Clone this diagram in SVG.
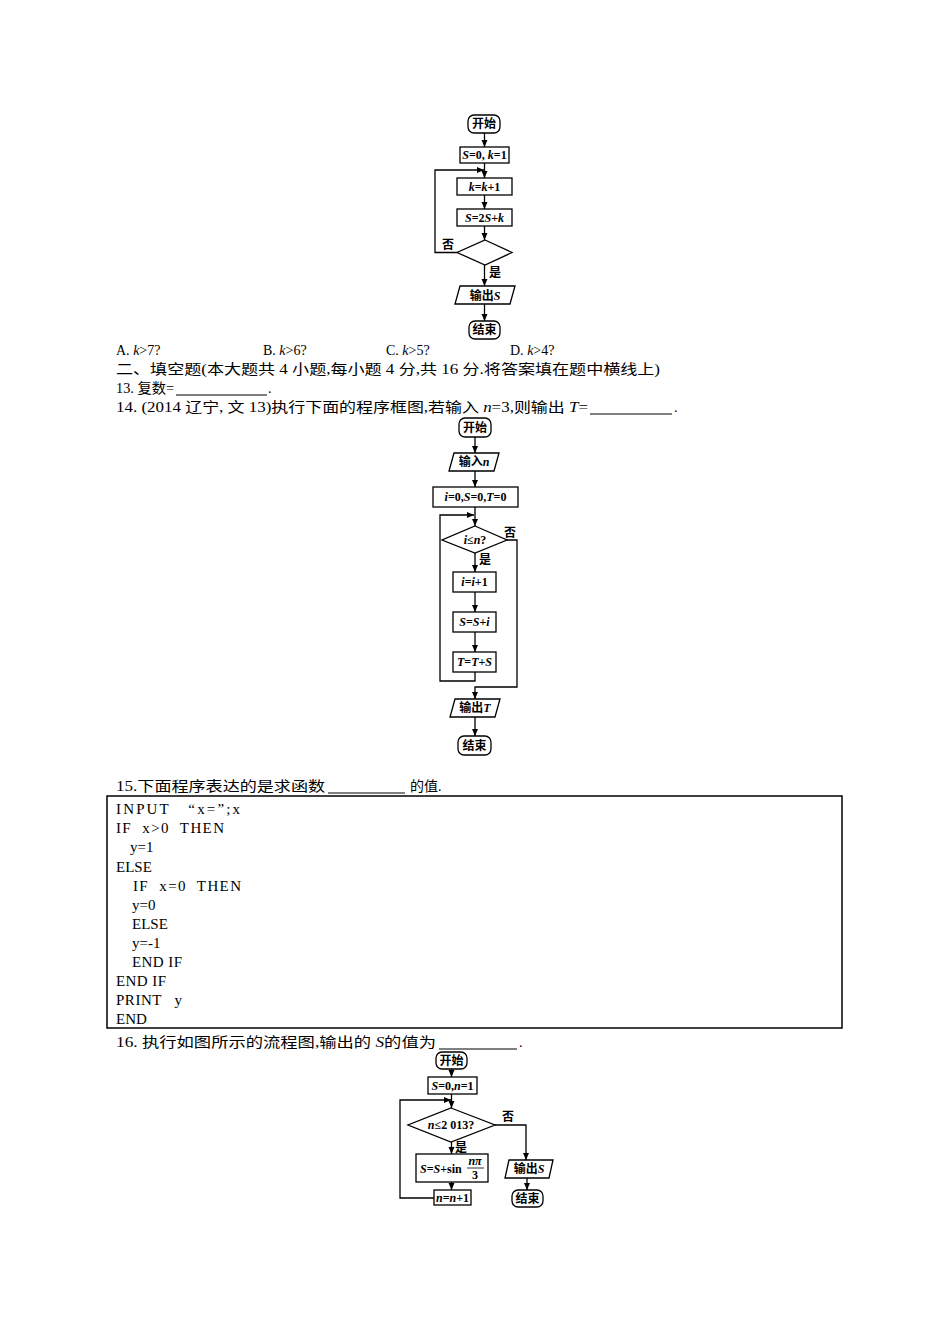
<svg xmlns="http://www.w3.org/2000/svg" width="950" height="1344" viewBox="0 0 950 1344">
<style>
text{font-family:"Liberation Serif","Noto Sans CJK SC",serif;fill:#000}
.t{font-size:14px}
.n{font-size:12px;font-weight:bold}
.c{font-size:15px}
.b{fill:#fff;stroke:#000;stroke-width:1.3}
.l{fill:none;stroke:#000;stroke-width:1.3}
.u{stroke:#000;stroke-width:1}
</style>
<defs><marker id="a" markerWidth="8" markerHeight="8" refX="7" refY="4" orient="auto" markerUnits="userSpaceOnUse"><path d="M0,1 L7,4 L0,7 Z" fill="#000"/></marker></defs>
<rect width="950" height="1344" fill="#fff"/>

<!-- Flowchart 1 -->
<g id="f1-start"><rect class="b" x="468" y="115" width="32" height="18" rx="6"/><text class="n" x="484" y="128" text-anchor="middle">开始</text></g>
<g id="f1-init"><rect class="b" x="460" y="147" width="49" height="16"/><text class="n" x="484.5" y="159" text-anchor="middle"><tspan font-style="italic">S</tspan>=0, <tspan font-style="italic">k</tspan>=1</text></g>
<g id="f1-k"><rect class="b" x="457" y="178" width="55" height="17"/><text class="n" x="484.5" y="191" text-anchor="middle"><tspan font-style="italic">k</tspan>=<tspan font-style="italic">k</tspan>+1</text></g>
<g id="f1-s"><rect class="b" x="457" y="209" width="55" height="17"/><text class="n" x="484.5" y="222" text-anchor="middle"><tspan font-style="italic">S</tspan>=2<tspan font-style="italic">S</tspan>+<tspan font-style="italic">k</tspan></text></g>
<g id="f1-cond"><polygon class="b" points="485,240 512,252.5 485,265 457,252.5"/></g>
<g id="f1-out"><polygon class="b" points="460,286 515,286 510,304 455,304"/><text class="n" x="485" y="300" text-anchor="middle">输出<tspan font-style="italic">S</tspan></text></g>
<g id="f1-end"><rect class="b" x="469" y="321" width="31" height="18" rx="6"/><text class="n" x="484.5" y="334" text-anchor="middle">结束</text></g>
<g id="f1-connectors">
<line class="l" x1="484.5" y1="133" x2="484.5" y2="147" marker-end="url(#a)"/>
<line class="l" x1="484.5" y1="163" x2="484.5" y2="178" marker-end="url(#a)"/>
<line class="l" x1="484.5" y1="195" x2="484.5" y2="209" marker-end="url(#a)"/>
<line class="l" x1="484.5" y1="226" x2="484.5" y2="240" marker-end="url(#a)"/>
<polyline class="l" points="457,252.5 435,252.5 435,170 484,170" marker-end="url(#a)"/>
<line class="l" x1="484.5" y1="265" x2="484.5" y2="286" marker-end="url(#a)"/>
<line class="l" x1="484.5" y1="304" x2="484.5" y2="321" marker-end="url(#a)"/>
<text class="n" x="442" y="249">否</text><text class="n" x="489" y="277">是</text>
</g>

<!-- Text block -->
<text class="t" x="116" y="355">A. <tspan font-style="italic">k</tspan>&gt;7?</text>
<text class="t" x="263" y="355">B. <tspan font-style="italic">k</tspan>&gt;6?</text>
<text class="t" x="386" y="355">C. <tspan font-style="italic">k</tspan>&gt;5?</text>
<text class="t" x="510" y="355">D. <tspan font-style="italic">k</tspan>&gt;4?</text>
<text class="t" x="116" y="374" textLength="544" lengthAdjust="spacingAndGlyphs">二、填空题(本大题共 4 小题,每小题 4 分,共 16 分.将答案填在题中横线上)</text>
<text class="t" x="116" y="393" textLength="58" lengthAdjust="spacingAndGlyphs">13. 复数=</text><line class="u" x1="176" y1="395" x2="267" y2="395"/><text class="t" x="268" y="393">.</text>
<text class="t" x="116" y="412" textLength="472" lengthAdjust="spacingAndGlyphs">14. (2014 辽宁, 文 13)执行下面的程序框图,若输入 <tspan font-style="italic">n</tspan>=3,则输出 <tspan font-style="italic">T</tspan>=</text><line class="u" x1="590" y1="414" x2="672" y2="414"/><text class="t" x="674" y="412">.</text>

<!-- Flowchart 2 -->
<g id="f2-start"><rect class="b" x="459" y="418" width="32" height="19" rx="6"/><text class="n" x="475" y="432" text-anchor="middle">开始</text></g>
<g id="f2-in"><polygon class="b" points="454,453 499,453 494,471 449,471"/><text class="n" x="474" y="466" text-anchor="middle">输入<tspan font-style="italic">n</tspan></text></g>
<g id="f2-init"><rect class="b" x="433" y="487" width="85" height="20"/><text class="n" x="475.5" y="501" text-anchor="middle"><tspan font-style="italic">i</tspan>=0,<tspan font-style="italic">S</tspan>=0,<tspan font-style="italic">T</tspan>=0</text></g>
<g id="f2-cond"><polygon class="b" points="475,526 507,540 475,553 442,540"/><text class="n" x="475" y="544" text-anchor="middle"><tspan font-style="italic">i</tspan>≤<tspan font-style="italic">n</tspan>?</text></g>
<g id="f2-i"><rect class="b" x="453" y="572" width="43" height="20"/><text class="n" x="474.5" y="586" text-anchor="middle"><tspan font-style="italic">i</tspan>=<tspan font-style="italic">i</tspan>+1</text></g>
<g id="f2-s"><rect class="b" x="453" y="612" width="43" height="20"/><text class="n" x="474.5" y="626" text-anchor="middle"><tspan font-style="italic">S</tspan>=<tspan font-style="italic">S</tspan>+<tspan font-style="italic">i</tspan></text></g>
<g id="f2-t"><rect class="b" x="453" y="652" width="43" height="20"/><text class="n" x="474.5" y="666" text-anchor="middle"><tspan font-style="italic">T</tspan>=<tspan font-style="italic">T</tspan>+<tspan font-style="italic">S</tspan></text></g>
<g id="f2-out"><polygon class="b" points="455,699 500,699 495,717 450,717"/><text class="n" x="475" y="712" text-anchor="middle">输出<tspan font-style="italic">T</tspan></text></g>
<g id="f2-end"><rect class="b" x="458" y="736" width="33" height="19" rx="6"/><text class="n" x="474.5" y="750" text-anchor="middle">结束</text></g>
<g id="f2-connectors">
<line class="l" x1="475" y1="437" x2="475" y2="453" marker-end="url(#a)"/>
<line class="l" x1="475" y1="471" x2="475" y2="487" marker-end="url(#a)"/>
<line class="l" x1="475" y1="507" x2="475" y2="526" marker-end="url(#a)"/>
<line class="l" x1="475" y1="553" x2="475" y2="572" marker-end="url(#a)"/>
<line class="l" x1="475" y1="592" x2="475" y2="612" marker-end="url(#a)"/>
<line class="l" x1="475" y1="632" x2="475" y2="652" marker-end="url(#a)"/>
<polyline class="l" points="475,672 475,681 440,681 440,515 474,515" marker-end="url(#a)"/>
<polyline class="l" points="507,540 517,540 517,687 475,687 475,699" marker-end="url(#a)"/>
<line class="l" x1="475" y1="717" x2="475" y2="736" marker-end="url(#a)"/>
<text class="n" x="504" y="537">否</text><text class="n" x="479" y="564">是</text>
</g>

<!-- Section 15 -->
<text class="t" x="116" y="791" textLength="209" lengthAdjust="spacingAndGlyphs">15.下面程序表达的是求函数</text><line class="u" x1="328" y1="793" x2="405" y2="793"/><text class="t" x="410" y="791">的值.</text>
<g id="code">
<rect x="107" y="796" width="735" height="232" fill="none" stroke="#000" stroke-width="1.5"/>
<text class="c" x="116" y="814" xml:space="preserve" textLength="124">INPUT   “x=”;x</text>
<text class="c" x="116" y="833" xml:space="preserve" textLength="108">IF  x&gt;0  THEN</text>
<text class="c" x="130" y="852">y=1</text>
<text class="c" x="116" y="872">ELSE</text>
<text class="c" x="133" y="891" xml:space="preserve" textLength="108">IF  x=0  THEN</text>
<text class="c" x="132" y="910">y=0</text>
<text class="c" x="132" y="929">ELSE</text>
<text class="c" x="132" y="948">y=-1</text>
<text class="c" x="132" y="967" xml:space="preserve" textLength="50">END IF</text>
<text class="c" x="116" y="986" xml:space="preserve" textLength="50">END IF</text>
<text class="c" x="116" y="1005" xml:space="preserve" textLength="66">PRINT   y</text>
<text class="c" x="116" y="1024">END</text>
</g>

<!-- Section 16 -->
<text class="t" x="116" y="1047" textLength="320" lengthAdjust="spacingAndGlyphs">16. 执行如图所示的流程图,输出的 <tspan font-style="italic">S</tspan>的值为</text><line class="u" x1="439" y1="1049" x2="517" y2="1049"/><text class="t" x="519" y="1047">.</text>
<g id="f3-start"><rect class="b" x="436" y="1052" width="31" height="17" rx="6"/><text class="n" x="451.5" y="1065" text-anchor="middle">开始</text></g>
<g id="f3-init"><rect class="b" x="428" y="1077" width="49" height="17"/><text class="n" x="452.5" y="1090" text-anchor="middle"><tspan font-style="italic">S</tspan>=0,<tspan font-style="italic">n</tspan>=1</text></g>
<g id="f3-cond"><polygon class="b" points="451,1108 495,1125 451,1142 408,1125"/><text class="n" x="451" y="1129" text-anchor="middle"><tspan font-style="italic">n</tspan>≤2 013?</text></g>
<g id="f3-s"><rect class="b" x="416" y="1154" width="72" height="28"/><text class="n" x="420" y="1173"><tspan font-style="italic">S</tspan>=<tspan font-style="italic">S</tspan>+sin</text><text class="n" x="475" y="1165" text-anchor="middle" font-style="italic">nπ</text><line x1="467" y1="1168" x2="484" y2="1168" stroke="#000" stroke-width="0.8"/><text class="n" x="475" y="1179" text-anchor="middle">3</text></g>
<g id="f3-n"><rect class="b" x="434" y="1190" width="37" height="15"/><text class="n" x="452.5" y="1202" text-anchor="middle"><tspan font-style="italic">n</tspan>=<tspan font-style="italic">n</tspan>+1</text></g>
<g id="f3-out"><polygon class="b" points="509,1160 553,1160 549,1178 505,1178"/><text class="n" x="529" y="1173" text-anchor="middle">输出<tspan font-style="italic">S</tspan></text></g>
<g id="f3-end"><rect class="b" x="512" y="1190" width="31" height="17" rx="6"/><text class="n" x="527.5" y="1203" text-anchor="middle">结束</text></g>
<g id="f3-connectors">
<line class="l" x1="451.5" y1="1069" x2="451.5" y2="1077" marker-end="url(#a)"/>
<line class="l" x1="451.5" y1="1094" x2="451.5" y2="1108" marker-end="url(#a)"/>
<line class="l" x1="451.5" y1="1142" x2="451.5" y2="1154" marker-end="url(#a)"/>
<line class="l" x1="451.5" y1="1182" x2="451.5" y2="1190" marker-end="url(#a)"/>
<polyline class="l" points="434,1198 400,1198 400,1100 451,1100" marker-end="url(#a)"/>
<polyline class="l" points="495,1125 526,1125 526,1160" marker-end="url(#a)"/>
<line class="l" x1="527" y1="1178" x2="527" y2="1190" marker-end="url(#a)"/>
<text class="n" x="502" y="1121">否</text><text class="n" x="455" y="1152">是</text>
</g>
</svg>
